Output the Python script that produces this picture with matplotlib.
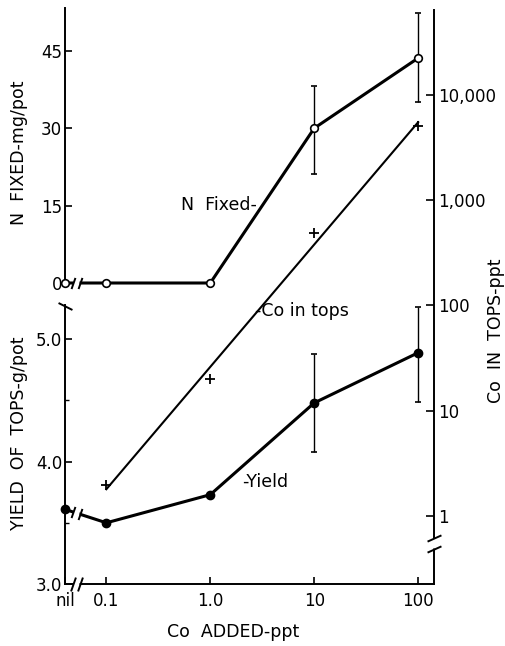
import numpy as np
import matplotlib.pyplot as plt
from matplotlib.ticker import FixedLocator, FixedFormatter, NullLocator

# Co added, ppt ("nil" sits on the left edge of the log axis)
co_added = [0.1, 1.0, 10, 100]
nil_x = 0.04
x_ticks = [nil_x, 0.1, 1.0, 10, 100]
x_labels = ['nil', '0.1', '1.0', '10', '100']

# N fixed, mg/pot
n_nil = 0.0
n_fixed = [0.0, 0.0, 30.0, 43.6]
n_bar_x = [10, 100]
n_bar_mid = [30.0, 43.6]
n_bar_lo = [21.1, 35.1]
n_bar_hi = [38.2, 52.4]

# yield of tops, g/pot
yield_nil = 3.61
yield_tops = [3.50, 3.73, 4.48, 4.89]
y_bar_x = [10, 100]
y_bar_mid = [4.48, 4.89]
y_bar_lo = [4.08, 4.49]
y_bar_hi = [4.88, 5.26]

# Co in tops, ppt (crosses, the line is a log-log fit)
co_tops = [1.97, 20, 490, 5070]

n_ticks = [0, 15, 30, 45]
yield_ticks = [3.0, 4.0, 5.0]
yield_minor = [3.5, 4.5]
co_ticks = [1, 10, 100, 1000, 10000]
co_labels = ['1', '10', '100', '1,000', '10,000']

W, H = 505, 646


def box(left, top, right, bottom):
    # pixel box -> figure fraction
    return [left / W, 1 - bottom / H, (right - left) / W, (bottom - top) / H]


SLASH = [(-0.35, -1), (0.35, 1)]
FLAT_SLASH = [(-1, -0.45), (1, 0.45)]
BACK_SLASH = [(-1, 0.5), (1, -0.5)]


def break_mark(ax, gap, slashes, ys, marker=SLASH, ms=8, gap_ms=5):
    ax.plot(*gap, 's', ms=gap_ms, mfc='white', mec='none', zorder=5, clip_on=False)
    ax.plot(slashes, ys, ls='none', marker=marker, ms=ms, mfc='none',
            mec='black', mew=1.4, zorder=6, clip_on=False)


fig = plt.figure(figsize=(5.05, 6.46), dpi=100)
XLIM = (nil_x, 142)

ax_co = fig.add_axes(box(65, 10, 434, 584))
ax_n = fig.add_axes(box(65, 8, 434, 283))
ax_y = fig.add_axes(box(65, 305, 434, 584))

for ax in (ax_co, ax_n, ax_y):
    ax.set_xscale('log')
    ax.set_xlim(*XLIM)
    ax.patch.set_visible(False)
    for s in ax.spines.values():
        s.set_linewidth(1.4)
    ax.tick_params(direction='in', width=1.2, labelsize=12)

# right (Co in tops) and bottom (Co added) axes
ax_co.set_yscale('log')
ax_co.set_ylim(0.226, 64000)
ax_co.spines[['left', 'top']].set_visible(False)
ax_co.yaxis.tick_right()
ax_co.yaxis.set_label_position('right')
ax_co.yaxis.set_major_locator(FixedLocator(co_ticks))
ax_co.yaxis.set_major_formatter(FixedFormatter(co_labels))
ax_co.yaxis.set_minor_locator(NullLocator())
ax_co.xaxis.set_major_locator(FixedLocator(x_ticks))
ax_co.xaxis.set_major_formatter(FixedFormatter(x_labels))
ax_co.xaxis.set_minor_locator(NullLocator())
ax_co.tick_params(axis='x', length=5, pad=6)
ax_co.tick_params(axis='y', length=6, pad=3)
ax_co.set_xlabel('Co  ADDED-ppt', fontsize=12.5)
ax_co.set_ylabel('Co  IN  TOPS-ppt', fontsize=12.5)
ax_co.xaxis.set_label_coords(0.455, -0.068)
ax_co.yaxis.set_label_coords(1.144, 0.441)

slope, icpt = np.polyfit(np.log10(co_added), np.log10(co_tops), 1)
fit_x = np.array([co_added[0], co_added[-1]])
ax_co.plot(fit_x, 10 ** (icpt + slope * np.log10(fit_x)), color='k', lw=1.5)
ax_co.plot(co_added, co_tops, '+', color='k', ms=7, mew=1.3)
ax_co.text(2.69, 88, '-Co in tops', ha='left', va='center', fontsize=12.5)

# breaks on the bottom and right axes
ymin = ax_co.get_ylim()[0]
break_mark(ax_co, ([0.0515], [ymin]), [0.0477, 0.0557], [ymin, ymin], ms=10)
break_mark(ax_co, ([XLIM[1]], [0.553]), [XLIM[1], XLIM[1]], [0.618, 0.486],
           marker=FLAT_SLASH, ms=10, gap_ms=7)

# N fixed panel
ax_n.set_ylim(0, 53.3)
ax_n.spines[['right', 'top', 'bottom']].set_visible(False)
ax_n.xaxis.set_visible(False)
ax_n.set_yticks(n_ticks)
ax_n.tick_params(axis='y', length=5, pad=2)
ax_n.set_ylabel('N  FIXED-mg/pot', fontsize=12.5)
ax_n.yaxis.set_label_coords(-0.10, 0.473)
ax_n.plot([nil_x] + co_added, [n_nil] + n_fixed, color='k', lw=2.2, marker='o',
          ms=5.5, mfc='white', mec='k', mew=1.2, clip_on=False, zorder=3)
ax_n.errorbar(n_bar_x, n_bar_mid,
              yerr=[np.subtract(n_bar_mid, n_bar_lo), np.subtract(n_bar_hi, n_bar_mid)],
              fmt='none', ecolor='k', elinewidth=1.0, capsize=2.3, capthick=1.2,
              clip_on=False)
ax_n.text(2.81, 15.1, 'N  Fixed-', ha='right', va='center', fontsize=12.5)
break_mark(ax_n, ([0.0515], [n_nil]), [0.0477, 0.0557], [n_nil, n_nil])

# yield panel
ax_y.set_ylim(3.0, 5.28)
ax_y.spines[['right', 'top', 'bottom']].set_visible(False)
ax_y.xaxis.set_visible(False)
ax_y.set_yticks(yield_ticks)
ax_y.set_yticklabels([f'{v:.1f}' for v in yield_ticks])
ax_y.set_yticks(yield_minor, minor=True)
ax_y.tick_params(axis='y', which='major', length=5, pad=2)
ax_y.tick_params(axis='y', which='minor', direction='in', length=3, width=1.0)
ax_y.set_ylabel('YIELD  OF  TOPS-g/pot', fontsize=12.5)
ax_y.yaxis.set_label_coords(-0.10, 0.541)
ax_y.plot([nil_x] + co_added, [yield_nil] + yield_tops, color='k', lw=2.2,
          marker='o', ms=6, mfc='k', mec='k', clip_on=False, zorder=3)
ax_y.errorbar(y_bar_x, y_bar_mid,
              yerr=[np.subtract(y_bar_mid, y_bar_lo), np.subtract(y_bar_hi, y_bar_mid)],
              fmt='none', ecolor='k', elinewidth=1.0, capsize=2.3, capthick=1.2,
              clip_on=False)
ax_y.text(2.02, 3.83, '-Yield', ha='left', va='center', fontsize=12.5)

# break on the yield line between nil and 0.1
lx = np.log10([nil_x, co_added[0]])
yl = [yield_nil, yield_tops[0]]
sx = [0.0477, 0.0557]
break_mark(ax_y, ([0.0515], [np.interp(np.log10(0.0515), lx, yl)]), sx,
           np.interp(np.log10(sx), lx, yl))
# slash where the lower left axis starts
ax_y.plot([nil_x], [5.27], ls='none', marker=BACK_SLASH, ms=10, mec='k', mew=1.4,
          clip_on=False)

fig.savefig('out.png', dpi=100, facecolor='white')
